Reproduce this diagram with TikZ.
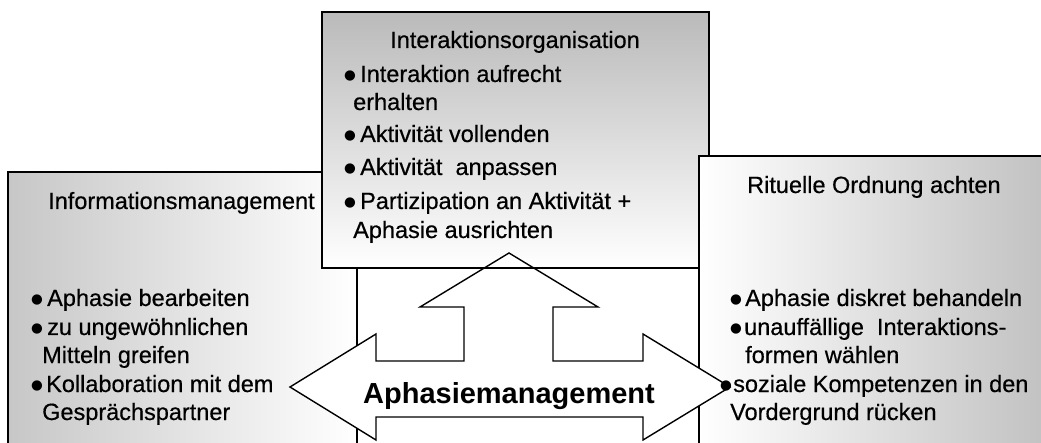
\documentclass[tikz,border=0pt]{standalone}
\usepackage{fontspec}
\setmainfont{Liberation Sans}
\newfontfamily\bodyfont{Liberation Sans}[FakeBold=0.5]
\newfontfamily\symfont{DejaVu Sans}
\definecolor{shadeL}{gray}{0.78}
\definecolor{shadeT}{gray}{0.73}
\definecolor{shadeR}{gray}{0.75}
\newcommand{\bulletmark}{\raisebox{2.5pt}{\symfont\fontsize{13.5}{14}\selectfont ●}}
\begin{document}
\begin{tikzpicture}[x=1pt,y=-1pt,
  panel/.style={draw=black, line width=1.6pt, rectangle, inner sep=0pt, outer sep=0pt, anchor=north west},
  txt/.style={anchor=base west, inner sep=0pt, font=\bodyfont\fontsize{23.5}{28}\selectfont},
  ctr/.style={anchor=base, inner sep=0pt, font=\bodyfont\fontsize{23.5}{28}\selectfont},
  dot/.style={anchor=base, inner sep=0pt},
  big/.style={anchor=base, inner sep=0pt, font=\fontsize{29}{34}\selectfont\bfseries},
  bigarrow/.style={draw=black, fill=white, line width=1.4pt, line join=miter}]
\useasboundingbox (0,0) rectangle (1041,443);
\clip (0,0) rectangle (1041,443);

% three panels, overlapping
\node[panel, left color=shadeL, right color=white, minimum width=349pt, minimum height=300pt] (info) at (8,172) {};
\node[panel, top color=shadeT, bottom color=white, minimum width=387pt, minimum height=256pt] (inter) at (322,12) {};
\node[panel, left color=white, right color=shadeR, minimum width=360pt, minimum height=300pt] (ritual) at (699,156) {};

% combined left-right-up block arrow
\draw[bigarrow] (509,253) -- (598,307) -- (553,307) -- (553,361) -- (643,361) -- (643,334)
  -- (730,387) -- (643,440) -- (643,417) -- (376,417) -- (376,440) -- (290,387)
  -- (376,334) -- (376,361) -- (464,361) -- (464,307) -- (420,307) -- cycle;
\draw[line width=1.6pt] (inter.south west) -- (ritual.west |- inter.south);

\node[big] (am) at (509,403) {Aphasiemanagement};

% Interaktionsorganisation
\node[ctr] (t0) at (515,48) {Interaktionsorganisation};
\node[dot] (tb1) at (350,82) {\bulletmark};
\node[txt] (t1) at (360,82) {Interaktion aufrecht};
\node[txt] (t1b) at (353,110) {erhalten};
\node[dot] (tb2) at (350,142) {\bulletmark};
\node[txt] (t2) at (360,142) {Aktivität vollenden};
\node[dot] (tb3) at (350,175) {\bulletmark};
\node[txt] (t3) at (360,175) {Aktivität~ anpassen};
\node[dot] (tb4) at (350,209) {\bulletmark};
\node[txt] (t4) at (360,209) {Partizipation an Aktivität +};
\node[txt] (t4b) at (353,238) {Aphasie ausrichten};

% Informationsmanagement
\node[txt] (l0) at (48,209) {Informationsmanagement};
\node[dot] (lb1) at (37,306) {\bulletmark};
\node[txt] (l1) at (47,306) {Aphasie bearbeiten};
\node[dot] (lb2) at (37,335) {\bulletmark};
\node[txt] (l2) at (47,335) {zu ungewöhnlichen};
\node[txt] (l2b) at (42,363) {Mitteln greifen};
\node[dot] (lb3) at (37,392) {\bulletmark};
\node[txt] (l3) at (46,392) {Kollaboration mit dem};
\node[txt] (l3b) at (42,420) {Gesprächspartner};

% Rituelle Ordnung achten
\node[txt] (r0) at (747,193) {Rituelle Ordnung achten};
\node[dot] (rb1) at (736,306) {\bulletmark};
\node[txt] (rl1) at (745,306) {Aphasie diskret behandeln};
\node[dot] (rb2) at (736,335) {\bulletmark};
\node[txt] (r2) at (744,335) {unauffällige~ Interaktions-};
\node[txt] (r2b) at (745,363) {formen wählen};
\node[dot] (rb3) at (726,392) {\bulletmark};
\node[txt] (r3) at (733,392) {soziale Kompetenzen in den};
\node[txt] (r3b) at (730,420) {Vordergrund rücken};
\end{tikzpicture}
\end{document}
